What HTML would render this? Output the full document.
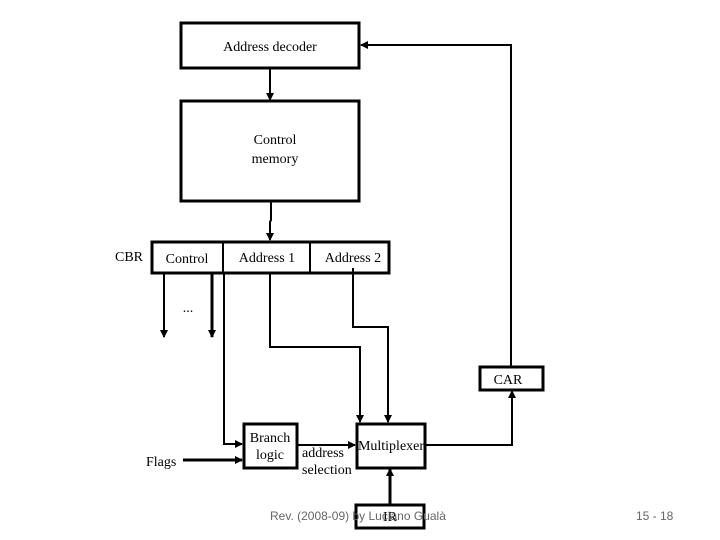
<!DOCTYPE html>
<html><head><style>
body{margin:0;background:#fff;}
svg{display:block;}
.t{font-family:"Liberation Serif",serif;font-size:14px;fill:#000;}
.f{font-family:"Liberation Sans",sans-serif;font-size:12px;fill:#666;}
</style></head><body>
<svg width="720" height="540" viewBox="0 0 720 540">
<defs><marker id="a" markerWidth="8" markerHeight="8" refX="7" refY="4" orient="auto" markerUnits="userSpaceOnUse"><path d="M0,0 L8,4 L0,8z" fill="#000"/></marker></defs>
<g fill="none" stroke="#000" stroke-width="3">
<rect x="181" y="23" width="178" height="45"/>
<rect x="181" y="101" width="178" height="100"/>
<rect x="152" y="242" width="237" height="31"/>
<rect x="480" y="367" width="63" height="23"/>
<rect x="244" y="424" width="53" height="44"/>
<rect x="357" y="424" width="68" height="44"/>
<rect x="356" y="505" width="68" height="23"/>
</g>
<g fill="none" stroke="#000" stroke-width="2">
<line x1="223" y1="242" x2="223" y2="273"/>
<line x1="310" y1="242" x2="310" y2="273"/>
<line x1="270" y1="68" x2="270" y2="100" marker-end="url(#a)"/>
<polyline points="271,202 271,220 270,222 270,240" marker-end="url(#a)"/>
<line x1="164" y1="273" x2="164" y2="337" marker-end="url(#a)"/>
<line x1="212" y1="273" x2="212" y2="337" stroke-width="3" marker-end="url(#a)"/>
<polyline points="224,273 224,444 242,444" marker-end="url(#a)"/>
<polyline points="270,273 270,347 360,347 360,422" marker-end="url(#a)"/>
<polyline points="353,268 353,327 388,327 388,422" marker-end="url(#a)"/>
<polyline points="511,366 511,45 361,45" marker-end="url(#a)"/>
<polyline points="426,445 512,445 512,391" marker-end="url(#a)"/>
<line x1="183" y1="460" x2="242" y2="460" stroke-width="3" marker-end="url(#a)"/>
<line x1="297" y1="445" x2="355" y2="445" marker-end="url(#a)"/>
<line x1="390" y1="505" x2="390" y2="469" stroke-width="3" marker-end="url(#a)"/>
</g>
<text class="t" x="270" y="51" text-anchor="middle">Address decoder</text>
<text class="t" x="275" y="144" text-anchor="middle">Control</text>
<text class="t" x="275" y="163" text-anchor="middle">memory</text>
<text class="t" x="115" y="261">CBR</text>
<text class="t" x="187" y="263" text-anchor="middle">Control</text>
<text class="t" x="267" y="262" text-anchor="middle">Address 1</text>
<text class="t" x="353" y="262" text-anchor="middle">Address 2</text>
<text class="t" x="188" y="312" text-anchor="middle">...</text>
<text class="t" x="508" y="384" text-anchor="middle">CAR</text>
<text class="t" x="270" y="442" text-anchor="middle">Branch</text>
<text class="t" x="270" y="459" text-anchor="middle">logic</text>
<text class="t" x="391" y="450" text-anchor="middle">Multiplexer</text>
<text class="t" x="302" y="457">address</text>
<text class="t" x="302" y="474">selection</text>
<text class="t" x="146" y="466">Flags</text>
<text class="t" x="390" y="521" text-anchor="middle">IR</text>
<text class="f" x="270" y="520">Rev. (2008-09) by Luciano Gualà</text>
<text class="f" x="636" y="520">15 - 18</text>
</svg>
</body></html>
